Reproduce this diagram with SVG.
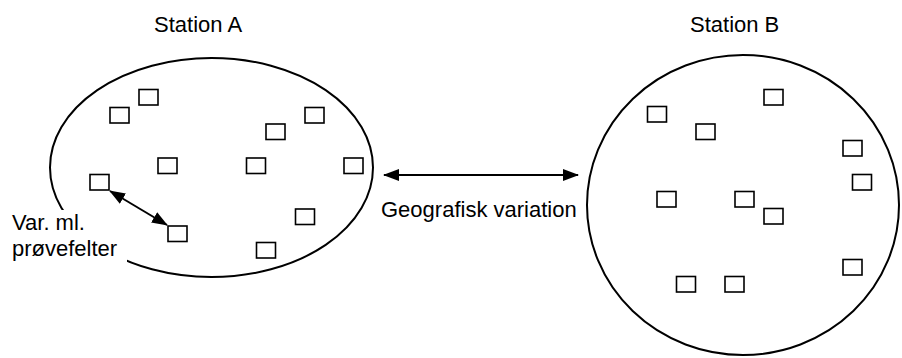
<svg xmlns="http://www.w3.org/2000/svg" width="902" height="358" viewBox="0 0 902 358">
<style>
  text { font-family: "Liberation Sans", Arial, sans-serif; font-size: 22px; fill: #000; }
  .region { fill: none; stroke: #000; stroke-width: 2; }
  .plot { fill: #fff; stroke: #000; stroke-width: 1.6; }
  .arrow { fill: none; stroke: #000; stroke-width: 2; }
</style>
<defs>
  <marker id="ah" viewBox="0 0 16 12" refX="15" refY="6" markerWidth="16" markerHeight="12" markerUnits="userSpaceOnUse" orient="auto-start-reverse">
    <path d="M0,0 L16,6 L0,12 Z" fill="#000"/>
  </marker>
</defs>
<rect width="902" height="358" fill="#fff"/>

<g id="stationA">
  <ellipse class="region" cx="211.5" cy="167.5" rx="161.5" ry="109.5"/>
  <text x="154" y="32">Station A</text>
  <rect class="plot" x="110" y="107.5" width="19" height="15.5"/>
  <rect class="plot" x="139" y="89.5" width="19" height="15.5"/>
  <rect class="plot" x="305" y="107.5" width="19" height="15.5"/>
  <rect class="plot" x="266" y="124" width="19" height="15.5"/>
  <rect class="plot" x="158" y="158" width="19" height="15.5"/>
  <rect class="plot" x="246.5" y="158" width="19" height="15.5"/>
  <rect class="plot" x="344" y="158" width="19" height="15.5"/>
  <rect class="plot" x="90" y="174.5" width="19" height="15.5"/>
  <rect class="plot" x="295.5" y="209" width="19" height="15.5"/>
  <rect class="plot" x="168" y="226" width="19" height="15.5"/>
  <rect class="plot" x="256.5" y="242.5" width="19" height="15.5"/>
</g>

<g id="stationB">
  <ellipse class="region" cx="743" cy="205" rx="156" ry="150"/>
  <text x="690" y="32">Station B</text>
  <rect class="plot" x="647.5" y="106.5" width="19" height="15.5"/>
  <rect class="plot" x="764" y="89.5" width="19" height="15.5"/>
  <rect class="plot" x="696" y="124" width="19" height="15.5"/>
  <rect class="plot" x="843" y="140.5" width="19" height="15.5"/>
  <rect class="plot" x="852.5" y="174.5" width="19" height="15.5"/>
  <rect class="plot" x="657" y="191.5" width="19" height="15.5"/>
  <rect class="plot" x="735" y="191.5" width="19" height="15.5"/>
  <rect class="plot" x="764" y="208.5" width="19" height="15.5"/>
  <rect class="plot" x="843" y="259.5" width="19" height="15.5"/>
  <rect class="plot" x="676.5" y="276.5" width="19" height="15.5"/>
  <rect class="plot" x="725" y="276.5" width="19" height="15.5"/>
</g>

<g id="label-var">
  <rect x="4" y="210" width="123" height="52" fill="#fff"/>
  <text x="12" y="230">Var. ml.</text>
  <text x="12" y="256">prøvefelter</text>
</g>

<g id="label-geo">
  <text x="381" y="217">Geografisk variation</text>
</g>

<g id="connectors">
  <line class="arrow" x1="110" y1="191" x2="167" y2="225" marker-start="url(#ah)" marker-end="url(#ah)"/>
  <line class="arrow" x1="384" y1="175" x2="578" y2="175" marker-start="url(#ah)" marker-end="url(#ah)"/>
</g>
</svg>
